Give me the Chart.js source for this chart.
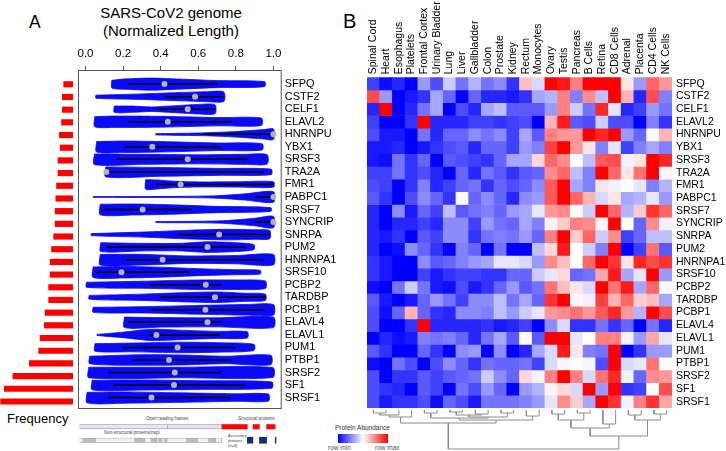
<!DOCTYPE html>
<html>
<head>
<meta charset="utf-8">
<script src="https://cdn.jsdelivr.net/npm/chart.js@4.4.1/dist/chart.umd.min.js"></script>
<style>
  body { margin: 0; width: 726px; height: 451px; background: #fff; position: relative; overflow: hidden;
         font-family: "Liberation Sans", Arial, sans-serif; }
  canvas { position: absolute; }
  .t { position: absolute; white-space: nowrap; color: #000; line-height: 1; }
</style>
</head>
<body>
<div class="t" style="left:29px;top:14.4px;font-size:17.5px;">A</div>
<div class="t" style="left:343px;top:10.7px;font-size:20px;">B</div>
<div class="t" style="left:71px;top:4px;width:200px;text-align:center;font-size:15px;line-height:18px;">SARS-CoV2 genome<br>(Normalized Length)</div>
<div class="t" style="left:7px;top:412px;font-size:13px;">Frequency</div>

<div class="t" style="left:146px;top:417px;font-size:4.5px;color:#444;">Open reading frames</div>
<div class="t" style="left:238px;top:417px;font-size:4.5px;color:#444;">Structural proteins</div>
<div class="t" style="left:104px;top:430.5px;font-size:4.5px;color:#444;">Non-structural proteins(nsp)</div>
<div class="t" style="left:228px;top:434px;font-size:4px;color:#444;line-height:1.2;">Accessory<br>proteins<br>(n=8)</div>

<div class="t" style="left:335px;top:425px;font-size:6.5px;color:#333;">Protein Abundance</div>
<div style="position:absolute;left:338px;top:434px;width:50px;height:9px;background:linear-gradient(to right,#0000ff,#ffffff,#ff0000);"></div>
<div class="t" style="left:328px;top:445px;font-size:6.5px;color:#555;">row min</div>
<div class="t" style="left:375px;top:445px;font-size:6.5px;color:#555;">row max</div>

<canvas id="freq" width="73" height="343" style="left:0px;top:70.3px;"></canvas>
<canvas id="violin" width="266" height="373" style="left:74px;top:40.3px;"></canvas>
<canvas id="genome" width="205" height="27" style="left:75px;top:419.5px;"></canvas>
<canvas id="heat" width="360" height="408" style="left:366.7px;top:0px;"></canvas>
<canvas id="dendro" width="306" height="42" style="left:366.7px;top:409px;"></canvas>

<script>
// ---- panel A data ----
const genes = ['SFPQ', 'CSTF2', 'CELF1', 'ELAVL2', 'HNRNPU', 'YBX1', 'SRSF3', 'TRA2A', 'FMR1', 'PABPC1',
  'SRSF7', 'SYNCRIP', 'SNRPA', 'PUM2', 'HNRNPA1', 'SRSF10', 'PCBP2', 'TARDBP', 'PCBP1', 'ELAVL4',
  'ELAVL1', 'PUM1', 'PTBP1', 'SRSF2', 'SF1', 'SRSF1'];
const frequency = [13, 15, 15, 16, 19, 18, 21, 21, 23, 24, 25, 25, 27, 30, 32, 32, 34, 34, 39, 40, 46, 48, 61, 84, 96, 101];
const xTicks = [0, 0.2, 0.4, 0.6, 0.8, 1.0];
const violinMedian = [0.42, 0.583, 0.544, 0.438, 1.0, 0.355, 0.544, 0.111, 0.506, 1.0, 0.304, 1.0, 0.711,
  0.649, 0.41, 0.191, 0.64, 0.689, 0.638, 0.649, 0.377, 0.49, 0.444, 0.475, 0.471, 0.351];
const violinIqr = [[0.226, 0.70], [0.42, 0.73], [0.38, 0.689], [0.226, 0.78], [0.62, 1.0], [0.21, 0.72],
  [0.165, 0.86], [0.11, 0.95], [0.374, 1.0], [0.9, 1.0], [0.096, 0.565], [0.9, 1.0], [0.496, 0.98],
  [0.113, 0.85], [0.217, 0.946], [0.06, 0.55], [0.34, 0.72], [0.40, 0.957], [0.35, 0.95], [0.226, 0.72],
  [0.34, 0.715], [0.2, 0.8], [0.252, 0.774], [0.122, 0.72], [0.15, 0.85], [0.12, 0.77]];
// [position, half width] pairs
const violinShapes = [
  [[0.14, 0.30], [0.20, 0.40], [0.35, 0.48], [0.50, 0.40], [0.70, 0.28], [0.953, 0.20]],
  [[0.055, 0.12], [0.30, 0.22], [0.50, 0.33], [0.65, 0.40], [0.736, 0.38]],
  [[0.153, 0.25], [0.25, 0.25], [0.35, 0.18], [0.50, 0.30], [0.60, 0.38], [0.689, 0.36]],
  [[0.049, 0.40], [0.15, 0.45], [0.40, 0.43], [0.70, 0.33], [0.936, 0.30]],
  [[0.374, 0.05], [0.60, 0.10], [0.80, 0.22], [0.95, 0.38], [1.0, 0.42]],
  [[0.059, 0.42], [0.20, 0.46], [0.40, 0.42], [0.70, 0.30], [0.94, 0.25]],
  [[0.047, 0.42], [0.30, 0.40], [0.60, 0.36], [0.85, 0.40], [0.966, 0.38]],
  [[0.108, 0.40], [0.40, 0.35], [0.70, 0.28], [0.988, 0.22]],
  [[0.32, 0.38], [0.38, 0.36], [0.48, 0.25], [0.60, 0.20], [0.80, 0.21], [1.0, 0.22]],
  [[0.04, 0.03], [0.50, 0.05], [0.70, 0.10], [0.85, 0.25], [1.0, 0.42]],
  [[0.078, 0.42], [0.25, 0.44], [0.45, 0.38], [0.70, 0.25], [0.986, 0.15]],
  [[0.374, 0.04], [0.60, 0.06], [0.75, 0.12], [0.90, 0.30], [1.0, 0.45]],
  [[0.03, 0.08], [0.30, 0.20], [0.55, 0.35], [0.75, 0.42], [0.90, 0.38], [0.98, 0.33]],
  [[0.081, 0.35], [0.30, 0.30], [0.50, 0.30], [0.65, 0.42], [0.80, 0.35], [0.896, 0.20]],
  [[0.078, 0.42], [0.30, 0.42], [0.55, 0.30], [0.80, 0.33], [1.0, 0.42]],
  [[0.04, 0.42], [0.20, 0.46], [0.40, 0.40], [0.60, 0.28], [0.80, 0.20], [0.93, 0.15]],
  [[0.005, 0.20], [0.30, 0.28], [0.60, 0.38], [0.80, 0.38], [0.957, 0.30]],
  [[0.019, 0.15], [0.30, 0.25], [0.55, 0.38], [0.70, 0.42], [0.85, 0.32], [0.957, 0.25]],
  [[0.04, 0.20], [0.30, 0.25], [0.60, 0.35], [0.85, 0.42], [1.0, 0.42]],
  [[0.207, 0.42], [0.40, 0.38], [0.70, 0.36], [1.0, 0.42]],
  [[0.061, 0.04], [0.20, 0.22], [0.35, 0.45], [0.50, 0.38], [0.70, 0.28], [0.861, 0.25]],
  [[0.05, 0.30], [0.25, 0.35], [0.50, 0.42], [0.70, 0.38], [0.896, 0.25]],
  [[0.022, 0.30], [0.30, 0.42], [0.50, 0.40], [0.75, 0.30], [0.986, 0.38]],
  [[0.017, 0.42], [0.50, 0.42], [0.997, 0.40]],
  [[0.035, 0.38], [0.30, 0.40], [0.60, 0.35], [0.992, 0.25]],
  [[0.008, 0.42], [0.20, 0.45], [0.50, 0.38], [0.80, 0.30], [0.974, 0.28]]
];

// genome map (nt)
const genomeRows = ['orf', 'nsp'];
const orfSpans = [[266, 13483], [13468, 21555]];
const structuralSpans = [[21563, 25384], [26245, 26472], [26523, 27191], [28274, 29533]];
const nspSpans = [[266, 805], [806, 2719], [2720, 8554], [8555, 10054], [10055, 10972], [10973, 11842],
  [11843, 12091], [12092, 12685], [12686, 13024], [13025, 13441], [13442, 16236], [16237, 18039],
  [18040, 19620], [19621, 20658], [20659, 21552]];
const accessorySpans = [[25393, 26220], [27202, 27387], [27394, 27759], [27756, 27887], [27894, 28259], [29558, 29674]];

// ---- panel B data ----
const tissues = ['Spinal Cord', 'Heart', 'Esophagus', 'Platelets', 'Frontal Cortex', 'Urinary Bladder', 'Lung',
  'Liver', 'Gallbladder', 'Colon', 'Prostate', 'Kidney', 'Rectum', 'Monocytes', 'Ovary', 'Testis', 'Pancreas',
  'B Cells', 'Retina', 'CD8 Cells', 'Adrenal', 'Placenta', 'CD4 Cells', 'NK Cells'];
// row-scaled abundance, -1 = row min, 1 = row max
const abundance = [
  [-0.75, -0.95, -0.85, -1, -0.4, -0.7, -0.2, -0.55, -0.3, -0.55, -0.45, -0.8, 0.25, -0.15, 1, 0.9, 0.5, 1, 1, 1, 0.1, -0.4, 0.6, 0.4],
  [0.7, -0.4, -1, -0.9, -0.8, -0.35, -0.6, -1, -0.6, -0.85, -0.85, -0.9, -0.8, -0.35, -0.3, 0.5, -0.5, 0.45, -0.25, 1, 0.3, -0.85, 0.7, -0.5],
  [-0.85, 1, -1, -0.85, -0.55, -0.35, -1, -0.7, -0.85, -0.35, -0.25, -0.65, -0.65, -0.65, -0.4, 0.5, -0.2, -0.55, 0.85, -0.1, -0.85, -0.75, -0.4, -0.55],
  [-0.75, -1, -1, -0.8, 1, -0.85, -0.85, -0.85, -0.75, -0.75, -0.8, -0.75, -0.7, -1, 0.3, 0.9, -0.65, -0.7, -0.2, -0.7, -0.7, -1, -0.5, -0.8],
  [-0.7, -0.9, -0.9, -1, -0.55, -0.85, -0.6, -0.6, -0.45, -0.55, -0.45, -0.75, -0.35, -0.65, 0.5, 0.4, 0.4, 1, 0.85, 1, -0.4, -0.6, 0.02, 0.3],
  [-0.9, -0.9, -0.85, -1, -0.9, -0.8, -0.7, -0.65, -0.85, -0.6, -0.6, -0.75, -0.4, -0.5, 0.75, 1, 0.4, 0.1, -0.5, -0.1, -0.75, -0.5, -0.35, -0.5],
  [-0.9, -0.95, -0.55, -0.8, -0.6, -1, -0.65, -0.7, -0.75, -0.8, -0.6, -0.35, -0.35, 0.15, 0.6, 0.45, 0, -0.25, 0.65, 0.7, -0.05, 0.1, 1, 0.85],
  [-0.75, -0.75, -0.55, -0.8, -0.7, -0.85, -1, -0.6, -0.85, -0.55, -0.65, -0.8, -0.65, -0.6, 0.45, 0.6, -0.25, -0.5, 1, 0.6, 0.1, 0.55, 1, 0.03],
  [-0.7, -0.75, -1, -0.8, -0.5, -0.85, -0.75, -0.6, -0.55, -0.8, -0.6, -0.7, -0.6, -0.45, 0.65, 1, -0.35, -0.5, 0.1, -0.05, 0, -0.1, -0.5, -0.3],
  [-0.65, -0.8, -1, -0.7, -0.45, -0.6, -0.8, -0.02, -0.6, -0.45, -0.6, -0.85, -0.45, -0.4, 0.65, 1, 0.6, 0.3, -0.15, 0.1, -0.35, -0.3, -0.1, -0.4],
  [-0.85, -1, -0.45, -0.9, -0.6, -0.75, -0.25, -0.65, -0.55, -0.5, -0.6, -0.4, -0.35, -0.1, 0.4, 0.45, 0, -0.2, 1, 0.6, -0.3, 0.2, 0.8, 0.6],
  [-0.85, -1, -0.85, -0.85, -0.75, -0.85, -0.45, -0.45, -0.75, -0.4, -0.55, -0.6, -0.35, -0.5, 0.05, 0.2, 0.5, 0.45, 0.05, 1, 0, -0.6, 0.45, -0.05],
  [-0.85, -0.9, -0.8, -1, -0.65, -0.75, -0.45, -0.45, -0.8, -0.55, -0.5, -0.55, -0.4, -0.6, 0.5, 1, 0.2, 0.6, -0.2, 0.45, -0.75, -0.6, -0.25, -0.25],
  [-0.85, -1, -0.95, -0.45, -0.6, -0.8, -1, -0.5, -0.6, -1, -0.55, -1, -1, -0.25, 0.15, 0.9, 0, -0.2, -0.5, 1, -1, -0.75, 0.55, -0.65],
  [-0.8, -0.9, -1, -1, -0.45, -0.65, -0.6, -0.5, -0.4, -0.35, -0.1, -0.1, -0.15, -0.4, 0.45, 0.25, 0, 0.6, 1, 0.8, 0.1, 0.85, 0.7, 0.8],
  [-0.8, -0.9, -1, -1, -0.75, -0.9, -0.8, -0.75, -0.75, -0.8, -0.8, -0.6, -0.6, -0.2, -0.1, 0.15, -0.6, -0.55, 0.35, 0.9, -0.35, -0.1, 1, -0.4],
  [-0.95, -1, -0.55, -0.2, -0.55, -0.9, -0.95, -0.7, -0.9, -0.8, -0.6, -0.4, -0.65, -0.55, 0.55, 0.25, 0.1, -0.15, 1, 0.55, 0.9, -0.35, 0.6, 0.02],
  [-0.65, -0.9, -1, -0.9, -0.6, -0.4, -0.55, -0.75, -0.45, -0.45, -0.25, -0.55, -0.35, -0.6, 0.8, 1, 0.03, -0.05, 0.75, 0.3, 0.6, 0.2, 0.25, -0.35],
  [-0.7, -0.95, -0.6, 0.3, -0.6, -0.8, -0.85, -0.45, -0.45, -0.5, -0.25, -0.4, -0.2, -0.1, 0.4, 0.45, 0.55, 0.4, 0.65, 0.85, 0.4, -0.3, 1, 0.7],
  [-0.7, -1, -1, -0.8, 1, -0.85, -0.85, -0.85, -0.85, -0.8, -0.9, -0.85, -0.75, -1, -0.45, -0.15, -0.8, -0.8, -0.55, -0.8, -0.6, -1, -0.55, -0.85],
  [-1, -0.85, -0.95, -0.9, -0.5, -0.55, -0.5, -0.6, -0.85, -0.55, -0.35, -0.65, -0.02, -0.65, 1, 1, -0.1, 0, 0.5, 0.5, -0.05, -0.4, 0.35, -0.1],
  [-0.65, -0.8, -1, -1, -0.6, -0.8, -1, -0.45, -0.4, -1, -0.45, -1, -0.85, -0.35, -0.15, 0.9, 0.1, -0.5, -0.55, 1, -1, -0.8, -0.4, -0.4],
  [-0.95, -1, -0.55, -0.7, -1, -0.7, -0.45, -0.6, -0.8, -0.55, -0.6, -0.6, -0.55, -0.75, -0.15, -0.03, 0, -0.03, -0.7, 1, -0.15, -0.1, 0.55, 0],
  [-0.7, -1, -0.8, -0.8, -0.65, -0.75, -0.65, -0.6, -0.55, -0.2, -0.45, -0.6, 0.15, -0.05, 0.5, 1, 0.5, -0.15, 0.55, 0.85, -0.05, -0.6, 0.45, 0.4],
  [-0.7, -0.8, -0.85, -1, -0.65, -0.75, -1, -0.55, -0.7, -0.4, -0.6, -1, -0.4, -0.3, 0.05, 0.15, -0.15, 1, -0.4, 1, -0.8, -0.75, 0, 0.7],
  [-0.7, -0.9, -0.8, -0.8, -0.7, -0.95, -0.6, -0.7, -0.9, -0.55, -0.55, -0.55, -0.5, -0.4, -0.1, 0.45, 0.2, -0.35, 1, 0.8, -0.05, 0.5, 0.8, 0.35]
];
// column dendrogram: [child a, child b, height]; children >= 24 are earlier merges
const dendroMerges = [
  [0, 1, 3], [24, 2, 5], [25, 3, 7], [4, 5, 3], [6, 7, 2], [8, 9, 4], [28, 29, 5], [10, 11, 3],
  [30, 31, 7], [27, 32, 8], [12, 13, 6], [33, 34, 10], [26, 35, 13], [14, 15, 4], [16, 17, 3],
  [37, 38, 10], [18, 19, 14], [39, 40, 18], [20, 21, 5], [22, 23, 4], [42, 43, 10], [41, 44, 26], [36, 45, 39]
];

Chart.defaults.font.family = '"Liberation Sans", Arial, sans-serif';
Chart.defaults.color = '#000';
Chart.defaults.animation = false;
Chart.defaults.responsive = false;
Chart.defaults.maintainAspectRatio = false;
Chart.defaults.plugins.legend.display = false;
Chart.defaults.plugins.tooltip.enabled = false;
Chart.defaults.layout.padding = 0;

const violinBlue = '#0a0af5';

function heatColor(v) {
  const c = Math.round(255 * (1 - Math.abs(v)));
  return v < 0 ? `rgb(${c},${c},255)` : `rgb(255,${c},${c})`;
}

// keep the label overhang from eating into the plot area
const noPadding = s => { s.paddingLeft = 0; s.paddingRight = 0; s.paddingTop = 0; s.paddingBottom = 0; };

const boxBorder = {
  id: 'boxBorder',
  afterDraw(chart) {
    const {ctx, chartArea: a} = chart;
    ctx.save();
    ctx.strokeStyle = '#555';
    ctx.lineWidth = 1;
    ctx.strokeRect(a.left + 0.5, a.top + 0.5, a.right - a.left - 1, a.bottom - a.top - 1);
    ctx.restore();
  }
};

// frequency bars
new Chart(document.getElementById('freq'), {
  type: 'bar',
  data: {
    datasets: [{
      data: frequency.map((f, i) => ({x: f, y: i})),
      backgroundColor: '#ff0000',
      barThickness: 5.5,
    }]
  },
  options: {
    indexAxis: 'y',
    scales: {
      x: {type: 'linear', min: 0, max: 102, reverse: true, display: false},
      y: {type: 'linear', min: -1.126, max: 25.91, reverse: true, offset: false, display: false}
    }
  }
});

// violins
const violinSets = [];
genes.forEach((g, i) => {
  const shape = violinShapes[i];
  const upper = shape.map(([x, h]) => ({x, y: i - h}));
  const lower = shape.slice().reverse().map(([x, h]) => ({x, y: i + h}));
  violinSets.push({
    data: [...upper, ...lower, upper[0]],
    backgroundColor: violinBlue,
    borderColor: violinBlue,
    borderWidth: 0.8,
    fill: 'shape',
    tension: 0.25,
    pointRadius: 0,
    order: 3,
  });
  violinSets.push({
    data: [{x: violinIqr[i][0], y: i}, {x: violinIqr[i][1], y: i}],
    borderColor: '#000',
    borderWidth: 1.5,
    pointRadius: 0,
    fill: false,
    order: 2,
  });
});
violinSets.push({
  data: violinMedian.map((m, i) => ({x: m, y: i})),
  showLine: false,
  pointRadius: 3,
  pointBackgroundColor: '#b4b4b4',
  pointBorderWidth: 0,
  order: 1,
});

new Chart(document.getElementById('violin'), {
  type: 'line',
  data: {datasets: violinSets},
  options: {
    scales: {
      x: {
        type: 'linear', position: 'top', min: -0.04, max: 1.044,
        afterBuildTicks: axis => { axis.ticks = xTicks.map(v => ({value: v})); },
        ticks: {callback: v => v.toFixed(1), font: {size: 11.5}, padding: 5, autoSkip: false, maxRotation: 0},
        grid: {drawOnChartArea: false, drawTicks: true, tickLength: 4, color: '#555'},
        border: {display: false},
        afterFit: s => { noPadding(s); s.height = 30; }
      },
      y: {
        type: 'linear', position: 'right', min: -1.126, max: 25.91, reverse: true,
        afterBuildTicks: axis => { axis.ticks = genes.map((g, i) => ({value: i})); },
        ticks: {callback: v => genes[v], font: {size: 11}, padding: 3, autoSkip: false},
        grid: {display: false, drawTicks: false},
        border: {display: false},
        afterFit: s => { noPadding(s); s.width = 266 - 207.7; }
      }
    }
  },
  plugins: [boxBorder]
});

// genome map
const nspShades = nspSpans.map((s, i) => i % 2 ? '#bdbdbd' : '#f2f2f2');
new Chart(document.getElementById('genome'), {
  type: 'bar',
  data: {
    labels: genomeRows,
    datasets: [
      {data: orfSpans.map(s => ({x: s, y: 'orf'})), backgroundColor: '#e6e6f6', borderColor: '#8a8aa8', borderWidth: 0.8, barThickness: 4.4},
      {data: structuralSpans.map(s => ({x: s, y: 'orf'})), backgroundColor: '#ff0000', barThickness: 4.4},
      {data: nspSpans.map(s => ({x: s, y: 'nsp'})), backgroundColor: nspShades, borderColor: '#888', borderWidth: 0.5, barThickness: 4.4},
      {data: accessorySpans.map(s => ({x: s, y: 'nsp'})), backgroundColor: '#1c2a7a', barThickness: 6}
    ]
  },
  options: {
    indexAxis: 'y',
    datasets: {bar: {grouped: false}},
    scales: {
      x: {type: 'linear', min: -374, max: 30269, display: false},
      y: {type: 'category', display: false}
    }
  }
});

// heatmap
const colLabelSize = 10.5;
new Chart(document.getElementById('heat'), {
  type: 'bar',
  data: {
    labels: tissues,
    datasets: genes.map((g, i) => ({
      label: g,
      data: tissues.map(() => 1),
      backgroundColor: abundance[i].map(heatColor),
      borderWidth: 0,
      barPercentage: 1,
      categoryPercentage: 1,
      yAxisID: 'y',
    }))
  },
  options: {
    scales: {
      x: {
        type: 'category', position: 'top', stacked: true, offset: true,
        grid: {display: false, drawTicks: false}, border: {display: false},
        // vertical labels on a top axis sit one line-height left of their tick; shift them back
        ticks: {autoSkip: false, minRotation: 90, maxRotation: 90, padding: 3,
                labelOffset: colLabelSize * 1.2, font: {size: colLabelSize}},
        afterFit: s => { noPadding(s); s.height = 77.3; }
      },
      y: {type: 'linear', stacked: true, min: 0, max: 26, reverse: true, display: false},
      rows: {
        type: 'category', axis: 'y', labels: genes, position: 'right', offset: true,
        grid: {display: false, drawTicks: false}, border: {display: false},
        ticks: {autoSkip: false, padding: 4, font: {size: 10.5}},
        afterFit: s => { noPadding(s); s.width = 360 - 305; }
      }
    }
  }
});

// column dendrogram
const nodeX = tissues.map((t, i) => i);
const nodeH = tissues.map(() => 0);
dendroMerges.forEach(([a, b, h]) => {
  nodeX.push((nodeX[a] + nodeX[b]) / 2);
  nodeH.push(h);
});
new Chart(document.getElementById('dendro'), {
  type: 'line',
  data: {
    datasets: dendroMerges.map(([a, b, h]) => ({
      data: [{x: nodeX[a], y: nodeH[a]}, {x: nodeX[a], y: h}, {x: nodeX[b], y: h}, {x: nodeX[b], y: nodeH[b]}],
      borderColor: '#8c8c8c',
      borderWidth: 1,
      pointRadius: 0,
      tension: 0,
    }))
  },
  options: {
    scales: {
      x: {type: 'linear', min: -0.5, max: 23.5, display: false},
      y: {type: 'linear', min: -1, max: 41, reverse: true, display: false}
    }
  }
});
</script>
</body>
</html>
